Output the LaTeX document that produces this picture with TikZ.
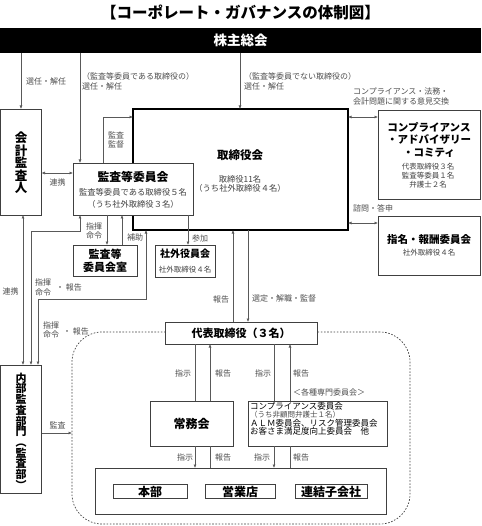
\documentclass[tikz,border=0pt]{standalone}
\usepackage{fontspec}
\setmainfont{Noto Sans CJK JP}
\usetikzlibrary{arrows.meta}
\tikzset{
 bx/.style={draw=black!75, line width=0.7pt, fill=white, inner sep=0pt, outer sep=0pt},
 ln/.style={draw=black!65, line width=0.6pt},
 ar/.style={ln, -{Latex[length=3.5pt,width=3pt]}},
 ab/.style={ln, {Latex[length=3.5pt,width=3pt]}-{Latex[length=3.5pt,width=3pt]}},
 lab/.style={font=\fontsize{8}{9.5}\selectfont, text=black!70, inner sep=0pt, anchor=west, align=left},
 hd/.style={font=\bfseries\fontsize{#1}{#1}\selectfont, inner sep=0pt},
 sm/.style={font=\fontsize{#1}{9}\selectfont, text=black!75, inner sep=0pt, align=center},
 vt/.style={font=\bfseries\fontsize{#1}{#1}\selectfont, inner sep=0pt, align=center}
}
\begin{document}
\begin{tikzpicture}[x=1pt,y=-1pt]
\useasboundingbox (0,0) rectangle (481,526);
% title
\node[hd=15.5] (title) at (240.5,12) {【コーポレート・ガバナンスの体制図】};
% group (dotted)
\node[draw=black!75, line width=0.7pt, dash pattern=on 1.6pt off 1.6pt, rounded corners=30pt, minimum width=338, minimum height=192, inner sep=0pt, outer sep=0pt] (grp) at (241,428) {};
% boxes
\node[fill=black, minimum width=481, minimum height=25, inner sep=0pt, outer sep=0pt] (kabu) at (240.5,40.5) {};
\node[hd=13.5, text=white] (kabut) at (240.5,40.5) {株主総会};
\node[bx, minimum width=41, minimum height=106] (kaikei) at (21,162) {};
\node[vt=12.5] (kaikeit) at (21,163) {会\\計\\監\\査\\人};
\node[bx, draw=black, line width=1.8pt, minimum width=215, minimum height=121] (tori) at (240.5,169.5) {};
\node[hd=11.5] (torit) at (240,155) {取締役会};
\node[sm=8.3] (torit2) at (240,183.5) {取締役11名\\（うち社外取締役４名）};
\node[bx, minimum width=120, minimum height=52] (kansa) at (133,189) {};
\node[hd=11.8] (kansat) at (133,177) {監査等委員会};
\node[sm=8.3, font=\fontsize{8.3}{12}\selectfont] (kansat2) at (133,198) {監査等委員である取締役５名\\（うち社外取締役３名）};
\node[bx, minimum width=64, minimum height=31] (shitsu) at (105,260.5) {};
\node[vt=11, font=\bfseries\fontsize{11}{13.5}\selectfont] (shitsut) at (105,261) {監査等\\委員会室};
\node[bx, minimum width=60, minimum height=32] (shagai) at (185,261) {};
\node[hd=10] (shagait) at (185,254) {社外役員会};
\node[sm=7.5] (shagait2) at (185,270) {社外取締役４名};
\node[bx, minimum width=102, minimum height=89] (comp) at (429,154.5) {};
\node[vt=10.5, font=\bfseries\fontsize{10.5}{12.5}\selectfont] (compt) at (429,139.5) {コンプライアンス\\・アドバイザリー\\・コミティ};
\node[sm=7.5] (compt2) at (428,176) {代表取締役３名\\監査等委員１名\\弁護士２名};
\node[bx, minimum width=102, minimum height=59] (shimei) at (429,245.5) {};
\node[hd=10.5] (shimeit) at (429,239) {指名・報酬委員会};
\node[sm=7.5] (shimeit2) at (429,253) {社外取締役４名};
\node[bx, minimum width=152, minimum height=22] (daihyo) at (241,333) {};
\node[hd=11] (daihyot) at (241,333) {代表取締役（３名）};
\node[bx, minimum width=41, minimum height=128] (naibu) at (21,429) {};
\node[vt=11, font=\bfseries\fontsize{11}{10.7}\selectfont] (naibut) at (21,431) {内\\部\\監\\査\\部\\門\\︵\\監\\査\\部\\︶};
\node[bx, minimum width=83, minimum height=45] (jomu) at (191.5,423.5) {};
\node[hd=12] (jomut) at (191.5,423.5) {常務会};
\node[bx, minimum width=139, minimum height=45] (senmon) at (317.5,423.5) {};
\node[inner sep=0pt, anchor=west, align=left, font=\fontsize{8.5}{8.5}\selectfont] (senmont) at (250,419) {コンプライアンス委員会\\{\color{black!70}\fontsize{7.5}{8.5}\selectfont （うち非顧問弁護士１名）}\\ＡＬＭ委員会、リスク管理委員会\\お客さま満足度向上委員会　他};
\node[bx, minimum width=291, minimum height=46] (bot) at (240.5,491) {};
\node[bx, minimum width=74, minimum height=14] (honbu) at (150,491.5) {};
\node[hd=12] (honbut) at (150,491.5) {本部};
\node[bx, minimum width=70, minimum height=14] (eigyo) at (240,491.5) {};
\node[hd=12] (eigyot) at (240,491.5) {営業店};
\node[bx, minimum width=72, minimum height=14] (renketsu) at (331,491.5) {};
\node[hd=12] (renketsut) at (331,491.5) {連結子会社};
% connectors
\draw[ar] (kabu.south -| kaikei) -- (kaikei.north);
\draw[ar] (kabu.south -| 80,0) -- (kansa.north -| 80,0);
\draw[ar] (kabu.south -| 240,0) -- (tori.north -| 240,0);
\draw[ar] (kansa.north -| 103,0) |- (tori.west |- 0,117);
\draw[ab] (kaikei.east |- 0,173) -- (kansa.west |- 0,173);
\draw[ab] (kaikei.south -| 23,0) -- (naibu.north -| 23,0);
\draw[ab] (naibu.north -| 31,0) |- (80,231) -- (kansa.south -| 80,0);
\draw[ab] (naibu.north -| 38,0) |- (146,299) -- (tori.south -| 146,0);
\draw[ar] (naibu.east |- 0,433) -- (grp.west |- 0,433);
\draw[ar] (kansa.south -| 107,0) -- (shitsu.north -| 107,0);
\draw[ar] (shitsu.north -| 122,0) -- (kansa.south -| 122,0);
\draw[ar] (kansa.south -| 188,0) -- (shagai.north -| 188,0);
\draw[ab] (tori.east |- 0,117) -- (comp.west |- 0,117);
\draw[ab] (tori.east |- 0,223) -- (shimei.west |- 0,223);
\draw[ar] (daihyo.north -| 233,0) -- (tori.south -| 233,0);
\draw[ar] (tori.south -| 248,0) -- (daihyo.north -| 248,0);
\draw[ln] (daihyo.south -| 195,0) -- (jomu.north -| 195,0);
\draw[ar] (jomu.north -| 210,0) -- (daihyo.south -| 210,0);
\draw[ln] (daihyo.south -| 274,0) -- (senmon.north -| 274,0);
\draw[ar] (senmon.north -| 290,0) -- (daihyo.south -| 290,0);
\draw[ar] (jomu.south -| 195,0) -- (bot.north -| 195,0);
\draw[ln] (bot.north -| 210,0) -- (jomu.south -| 210,0);
\draw[ar] (senmon.south -| 274,0) -- (bot.north -| 274,0);
\draw[ln] (bot.north -| 290,0) -- (senmon.south -| 290,0);
% labels
\node[lab] (l1) at (26,81) {選任・解任};
\node[lab] (l2) at (82,81.5) {（監査等委員である取締役の）\\選任・解任};
\node[lab] (l3) at (244,81.5) {（監査等委員でない取締役の）\\選任・解任};
\node[lab, font=\fontsize{8}{10}\selectfont] (l4) at (353,96) {コンプライアンス・法務・\\会計問題に関する意見交換};
\node[lab] (l5) at (108,140) {監査\\監督};
\node[lab, anchor=center] (l6) at (57.5,182) {連携};
\node[lab, anchor=center] (l7) at (10.5,291) {連携};
\node[lab] (l8) at (35,287.5) {指揮\\命令};
\node[lab] (l9) at (56,287) {・ 報告};
\node[lab] (l10) at (43,330) {指揮\\命令};
\node[lab] (l11) at (63,331) {・ 報告};
\node[lab, anchor=center] (l12) at (57.5,425) {監査};
\node[lab] (l13) at (86,231) {指揮\\命令};
\node[lab] (l14) at (127,237.5) {補助};
\node[lab] (l15) at (192,238) {参加};
\node[lab] (l16) at (213,299) {報告};
\node[lab] (l17) at (252,298) {選定・解職・監督};
\node[lab] (l18) at (353,208) {諮問・答申};
\node[lab] (l19) at (175,373) {指示};
\node[lab] (l20) at (215,373) {報告};
\node[lab] (l21) at (255,373) {指示};
\node[lab] (l22) at (293,373) {報告};
\node[lab] (l23) at (293,392) {＜各種専門委員会＞};
\node[lab] (l24) at (177,457) {指示};
\node[lab] (l25) at (215,457) {報告};
\node[lab] (l26) at (254,457) {指示};
\node[lab] (l27) at (293,457) {報告};
\end{tikzpicture}
\end{document}
